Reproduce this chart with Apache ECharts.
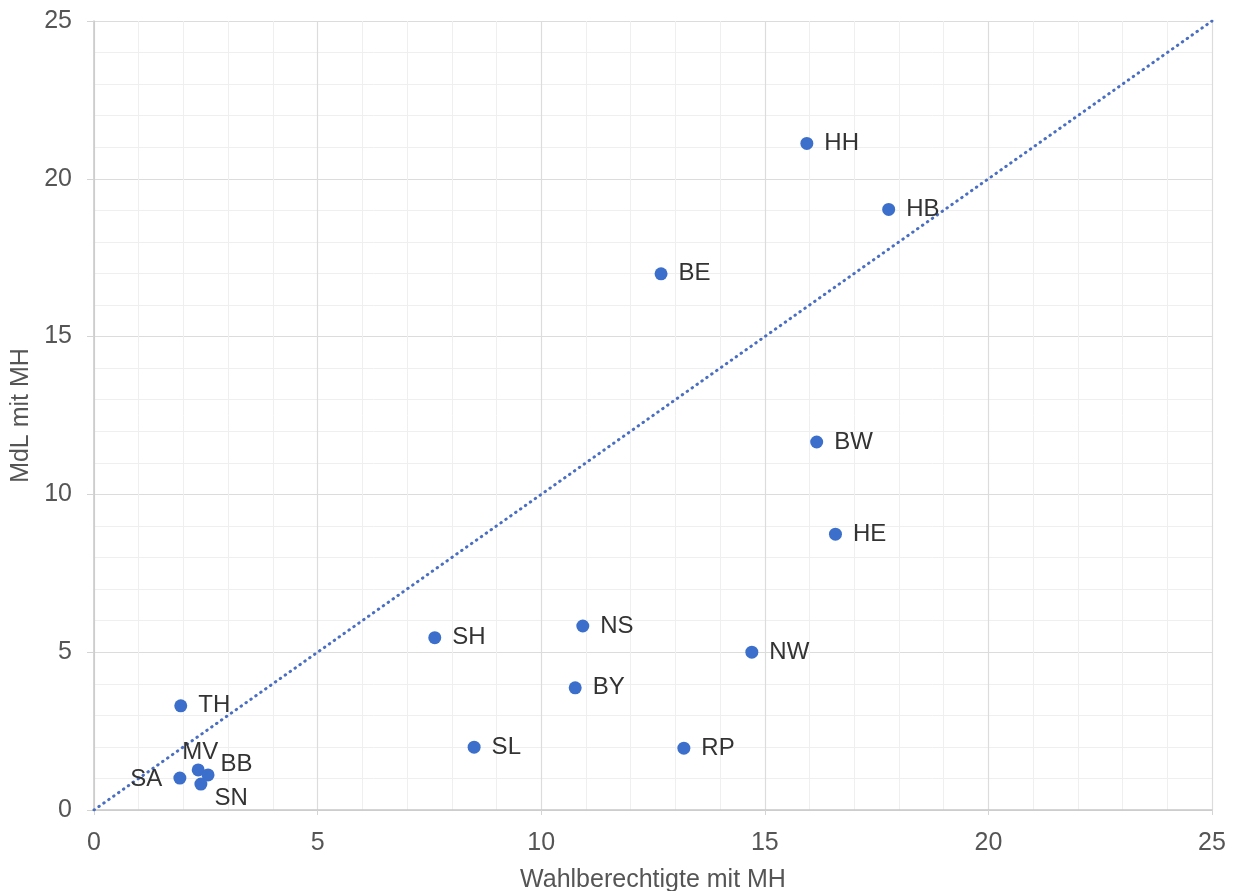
<!DOCTYPE html>
<html>
<head>
<meta charset="utf-8">
<script src="https://cdn.jsdelivr.net/npm/echarts@6/dist/echarts.min.js"></script>
<style>html,body{margin:0;padding:0;background:#fff;overflow:hidden;}#c{width:1236px;height:891px;}</style>
</head>
<body>
<div id="c"></div>
<script>
const states = ['HH','HB','BE','BW','HE','NS','SH','NW','BY','SL','RP','TH','MV','BB','SA','SN'];
const xValues = [15.94,17.77,12.68,16.16,16.58,10.93,7.62,14.71,10.76,8.50,13.19,1.94,2.33,2.55,1.92,2.39];
const yValues = [21.12,19.03,16.99,11.66,8.74,5.83,5.46,5.00,3.87,1.99,1.96,3.30,1.27,1.11,1.01,0.82];
const xTicks = [0,5,10,15,20,25];
const yTicks = [0,5,10,15,20,25];
const diagonal = [[0,0],[25,25]];

// label placement per state (style)
const labelPlace = {
  SA: {position:'left', offset:[0,1]},
  MV: {position:'top', distance:2, offset:[2,3]},
  BB: {position:'right', offset:[-5,-11]},
  SN: {position:'right', offset:[-4,14]}
};

const FONT = 'Liberation Sans';
const color = '#3b6fcb';
const pts = states.map((s,i) => {
  const p = {name:s, value:[xValues[i], yValues[i]]};
  if (labelPlace[s]) p.label = labelPlace[s];
  return p;
});

const axisCommon = {
  min: 0, max: 25, interval: 5,
  axisLine: {show:true, lineStyle:{color:'#c8c8c8', width:1.5}},
  axisTick: {show:true, length:7, lineStyle:{color:'#d4d4d4'}},
  splitLine: {show:true, lineStyle:{color:'#dcdcdc', width:1.2}},
  minorTick: {show:false, splitNumber:5},
  minorSplitLine: {show:true, lineStyle:{color:'#efefef', width:1}},
  nameTextStyle: {color:'#555', fontSize:25, fontFamily:FONT},
};

const chart = echarts.init(document.getElementById('c'), null, {renderer:'canvas'});
chart.setOption({
  animation: false,
  backgroundColor: '#fff',
  grid: {left:94, right:24, top:21, bottom:81, containLabel:false, outerBoundsMode:'none'},
  xAxis: Object.assign({}, axisCommon, {
    type:'value',
    name:'Wahlberechtigte mit MH', nameLocation:'middle', nameGap:58,
    axisTick: {show:true, length:5, lineStyle:{color:'#d4d4d4'}},
    axisLabel: {color:'#555', fontSize:25, fontFamily:FONT, margin:21,
      formatter: v => xTicks.includes(v) ? String(v) : ''}
  }),
  yAxis: Object.assign({}, axisCommon, {
    type:'value',
    name:'MdL mit MH', nameLocation:'middle', nameGap:56,
    axisLabel: {color:'#555', fontSize:25, fontFamily:FONT, margin:22,
      formatter: v => yTicks.includes(v) ? String(v) : ''}
  }),
  series: [
    {
      type:'line',
      data: diagonal,
      symbol:'none',
      silent:true,
      lineStyle:{color:'#4a6fc2', width:3, type:[0.5,5.5], cap:'round'},
      z:1
    },
    {
      type:'scatter',
      data: pts,
      symbolSize: 13,
      itemStyle: {color: color, opacity:1},
      label: {show:true, position:'right', distance:11, formatter: p => p.name,
        color:'#333', fontSize:24, fontFamily:FONT},
      z:3
    }
  ]
});
</script>
</body>
</html>
